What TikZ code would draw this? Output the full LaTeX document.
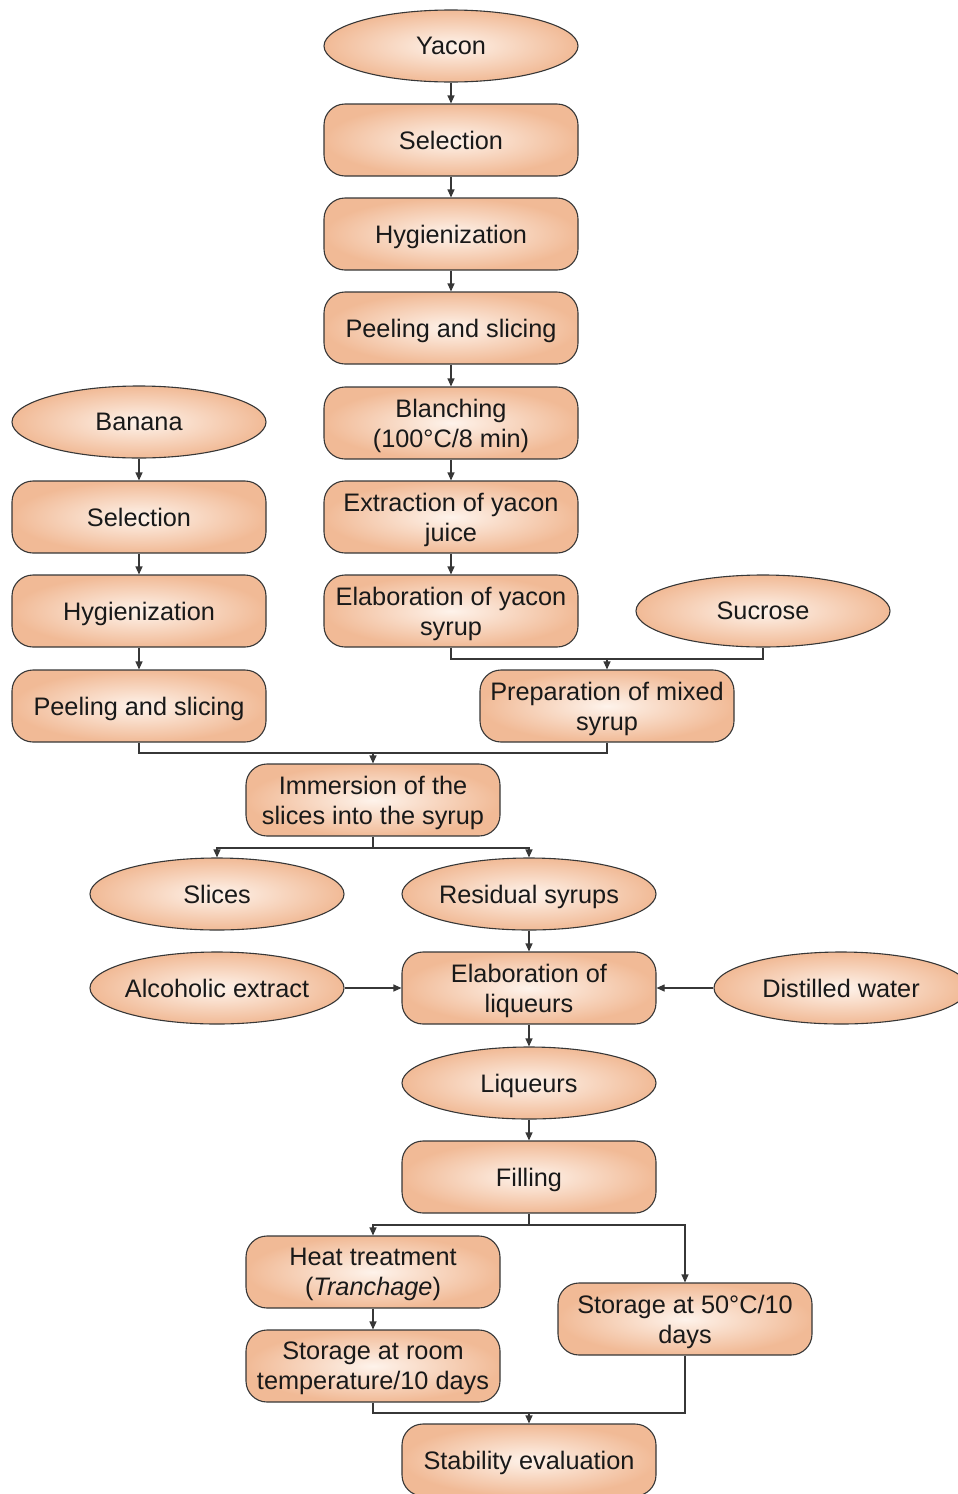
\documentclass[tikz,border=0pt]{standalone}
\usepackage{fontspec}
\setmainfont{Liberation Sans}
\usetikzlibrary{shapes.geometric,arrows.meta}
\definecolor{edgepeach}{RGB}{241,186,150}
\definecolor{centerpeach}{RGB}{254,243,235}
\definecolor{linegray}{RGB}{55,55,55}
\definecolor{txt}{RGB}{25,25,25}
\begin{document}
\begin{tikzpicture}[x=1pt,y=-1pt,
  base/.style={draw=linegray, line width=1.1pt, inner color=centerpeach, outer color=edgepeach,
    minimum width=254pt, minimum height=72pt, inner sep=0pt, align=center, text=txt,
    text depth=0pt, font=\fontsize{25.3}{30}\selectfont},
  rbox/.style={base, rectangle, rounded corners=21pt},
  ell/.style={base, ellipse, inner xsep=-14pt},
  ln/.style={draw=linegray, line width=1.1pt},
  arr/.style={ln, -{Triangle[length=8pt,width=7pt]}}]
\clip (0,0) rectangle (958,1494);
% yacon column
\node[ell]  (yacon) at (451,46)  {Yacon};
\node[rbox] (sel1)  at (451,140) {Selection};
\node[rbox] (hyg1)  at (451,234) {Hygienization};
\node[rbox] (peel1) at (451,328) {Peeling and slicing};
\node[rbox] (blan)  at (451,423) {Blanching\\(100°C/8 min)};
\node[rbox] (extr)  at (451,517) {Extraction of yacon\\juice};
\node[rbox] (ysyr)  at (451,611) {Elaboration of yacon\\syrup};
\node[ell]  (sucr)  at (763,611) {Sucrose};
\node[rbox] (prep)  at (607,706) {Preparation of mixed\\syrup};
% banana column
\node[ell]  (banana) at (139,422) {Banana};
\node[rbox] (sel2)   at (139,517) {Selection};
\node[rbox] (hyg2)   at (139,611) {Hygienization};
\node[rbox] (peel2)  at (139,706) {Peeling and slicing};
% lower part
\node[rbox] (imm)    at (373,800) {Immersion of the\\slices into the syrup};
\node[ell]  (slices) at (217,894) {Slices};
\node[ell]  (resid)  at (529,894) {Residual syrups};
\node[ell]  (alc)    at (217,988) {Alcoholic extract};
\node[rbox] (elab)   at (529,988) {Elaboration of\\liqueurs};
\node[ell]  (water)  at (841,988) {Distilled water};
\node[ell]  (liq)    at (529,1083) {Liqueurs};
\node[rbox] (fill)   at (529,1177) {Filling};
\node[rbox] (heat)   at (373,1272) {Heat treatment\\(\textit{Tranchage})};
\node[rbox] (st50)   at (685,1319) {Storage at 50°C/10\\days};
\node[rbox] (stroom) at (373,1366) {Storage at room\\temperature/10 days};
\node[rbox] (stab)   at (529,1460) {Stability evaluation};
% junctions
\coordinate (j1) at (607,659);
\coordinate (j2) at (373,753);
\coordinate (j3) at (373,848);
\coordinate (j4) at (529,1225);
\coordinate (j5) at (529,1413);
% connectors
\draw[arr] (yacon) -- (sel1);
\draw[arr] (sel1) -- (hyg1);
\draw[arr] (hyg1) -- (peel1);
\draw[arr] (peel1) -- (blan);
\draw[arr] (blan) -- (extr);
\draw[arr] (extr) -- (ysyr);
\draw[arr] (banana) -- (sel2);
\draw[arr] (sel2) -- (hyg2);
\draw[arr] (hyg2) -- (peel2);
\draw[ln] (ysyr.south) |- (j1) -| (sucr.south);
\draw[arr] (j1) -- (prep.north);
\draw[ln] (peel2.south) |- (j2) -| (prep.south);
\draw[arr] (j2) -- (imm.north);
\draw[ln] (imm.south) -- (j3);
\draw[arr] (j3) -| (slices.north);
\draw[arr] (j3) -| (resid.north);
\draw[arr] (resid) -- (elab);
\draw[arr] (alc.east) -- (elab.west);
\draw[arr] (water.west) -- (elab.east);
\draw[arr] (elab) -- (liq);
\draw[arr] (liq) -- (fill);
\draw[ln] (fill.south) -- (j4);
\draw[arr] (j4) -| (heat.north);
\draw[arr] (j4) -| (st50.north);
\draw[arr] (heat) -- (stroom);
\draw[ln] (stroom.south) |- (j5);
\draw[ln] (st50.south) |- (j5);
\draw[arr] (j5) -- (stab.north);
\end{tikzpicture}
\end{document}
